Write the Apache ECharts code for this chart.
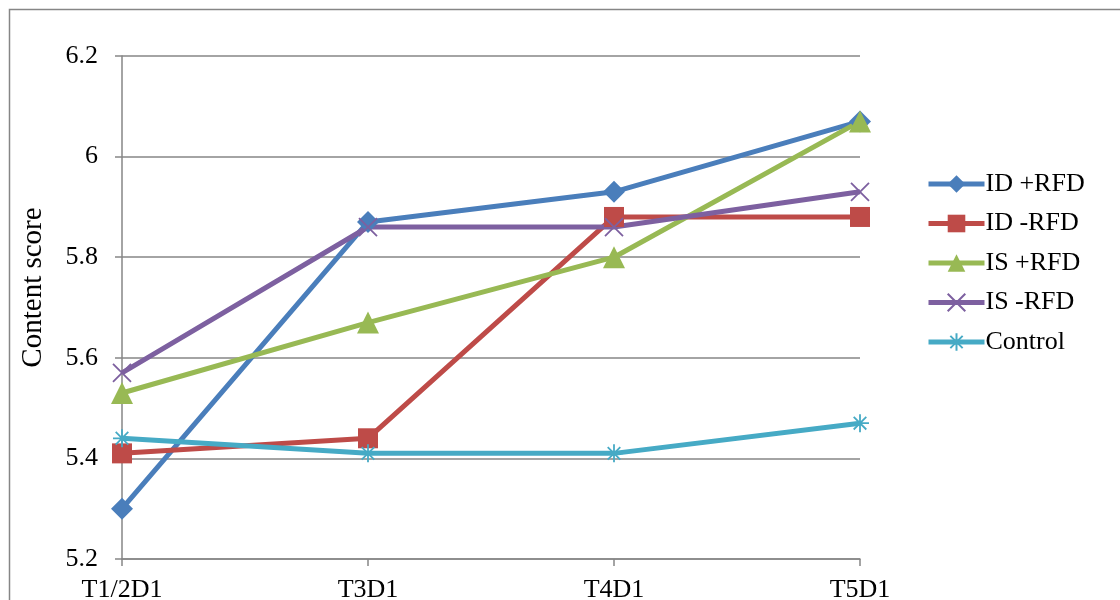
<!DOCTYPE html>
<html><head><meta charset="utf-8">
<script src="https://cdn.jsdelivr.net/npm/echarts@6/dist/echarts.min.js"></script>
<style>html,body{margin:0;padding:0;background:#fff}#c{width:1120px;height:600px}</style>
</head><body><div id="c"></div>
<script>
const categories = ['T1/2D1', 'T3D1', 'T4D1', 'T5D1'];
const idPlus = [5.30, 5.87, 5.93, 6.07];
const idMinus = [5.41, 5.44, 5.88, 5.88];
const isPlus = [5.53, 5.67, 5.80, 6.07];
const isMinus = [5.57, 5.86, 5.86, 5.93];
const control = [5.44, 5.41, 5.41, 5.47];
const seriesNames = ['ID +RFD', 'ID -RFD', 'IS +RFD', 'IS -RFD', 'Control'];

const font = 'Liberation Serif, Times New Roman, serif';
const xPath = 'path://M0,0L10,10M10,0L0,10';
const starPath = 'path://M5,0L5,10M0,5L10,5M1.5,1.5L8.5,8.5M8.5,1.5L1.5,8.5';

function mk(name, data, color, symbol, size, stroke) {
  return {
    name, type: 'line', data, symbol, symbolSize: size,
    lineStyle: { color, width: 5 },
    itemStyle: stroke ? { color: 'transparent', borderColor: color, borderWidth: 1.8 } : { color },
    emphasis: { disabled: true },
    animation: false
  };
}

const chart = echarts.init(document.getElementById('c'), null, { renderer: 'canvas' });
chart.setOption({
  backgroundColor: '#fff',
  animation: false,
  graphic: [{ type: 'rect', shape: { x: 9.5, y: 9.5, width: 1200, height: 700 }, style: { fill: 'none', stroke: '#868686', lineWidth: 1.5 }, silent: true, z: -10 }],
  grid: { left: 122, right: 260, top: 56, bottom: 41, containLabel: false, outerBoundsMode: 'none' },
  legend: {
    orient: 'vertical', left: 921, top: 166, itemGap: 13.5, itemWidth: 56, itemHeight: 22,
    lineStyle: { width: 5 },
    textStyle: { fontFamily: font, fontSize: 26, color: '#000', padding: [0, 0, 0, -4] },
    data: seriesNames
  },
  xAxis: {
    type: 'category', data: categories, boundaryGap: false,
    axisLine: { lineStyle: { color: '#868686', width: 1.5 } },
    axisTick: { show: true, alignWithLabel: true, length: 7, lineStyle: { color: '#868686', width: 1.5 } },
    axisLabel: { fontFamily: font, fontSize: 26, color: '#000', margin: 18 }
  },
  yAxis: {
    type: 'value', min: 5.2, max: 6.2, interval: 0.2,
    name: 'Content score', nameLocation: 'middle', nameGap: 74,
    nameTextStyle: { fontFamily: font, fontSize: 29, color: '#000', padding: [0, 0, 0, 40] },
    axisLine: { show: true, lineStyle: { color: '#868686', width: 1.5 } },
    axisTick: { show: true, length: 7, lineStyle: { color: '#868686', width: 1.5 } },
    splitLine: { lineStyle: { color: '#868686', width: 1.5 } },
    axisLabel: { fontFamily: font, fontSize: 26, color: '#000', margin: 24,
      formatter: v => String(Math.round(v * 10) / 10) }
  },
  series: [
    mk(seriesNames[0], idPlus, '#4A7EBB', 'diamond', 22, false),
    mk(seriesNames[1], idMinus, '#BE4B48', 'rect', 20, false),
    mk(seriesNames[2], isPlus, '#98B954', 'triangle', 22, false),
    mk(seriesNames[3], isMinus, '#7D60A0', xPath, 18, true),
    mk(seriesNames[4], control, '#46AAC5', starPath, 18, true)
  ]
});
</script></body></html>
